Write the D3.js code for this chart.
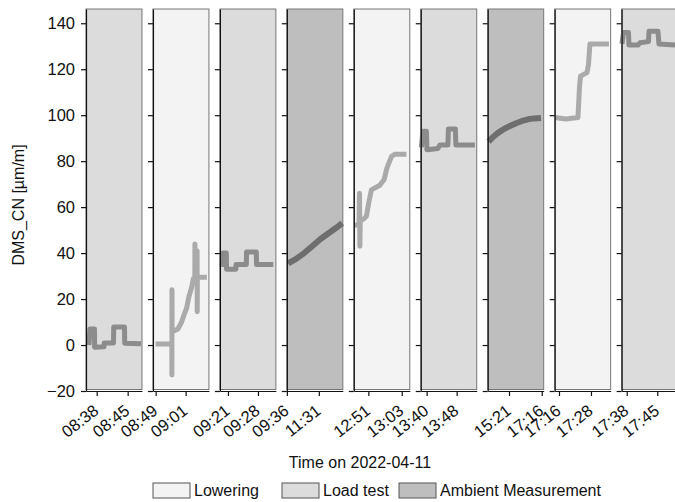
<!DOCTYPE html>
<html>
<head>
<meta charset="utf-8">
<script src="https://cdn.jsdelivr.net/npm/d3@7"></script>
<style>
  body { margin: 0; background: #fff; }
  text { font-family: "Liberation Sans", Arial, sans-serif; }
</style>
</head>
<body>
<div id="chart"></div>
<script>
// phase of each measurement window
const phases = ["Load test", "Lowering", "Load test", "Ambient Measurement", "Lowering",
  "Load test", "Ambient Measurement", "Lowering", "Load test"];

// visible time window of each panel
const windows = [
  ["08:35:35", "08:48:14"], ["08:47:55", "09:10:19"], ["09:19:07", "09:32:11"],
  ["09:36:00", "12:57:16"], ["12:45:47", "13:05:54"], ["13:38:26", "13:53:22"],
  ["14:06:06", "17:23:00"], ["17:14:23", "17:35:23"], ["17:36:50", "17:49:39"]
];

const tickTimes = [
  ["08:38", "08:45"], ["08:49", "09:01"], ["09:21", "09:28"], ["09:36", "11:31"],
  ["12:51", "13:03"], ["13:40", "13:48"], ["15:21", "17:16"], ["17:16", "17:28"],
  ["17:38", "17:45"]
];

const yTicks = [-20, 0, 20, 40, 60, 80, 100, 120, 140];

// DMS_CN [µm/m] per window
const dms1 = [["08:36:16", 0], ["08:36:29", 7], ["08:37:30", 7], ["08:37:32", -1], ["08:39:39", -0.8],
  ["08:39:42", 0.9], ["08:41:48", 0.9], ["08:41:51", 7.8], ["08:44:17", 7.8], ["08:44:20", 0.8],
  ["08:48:00", 0.6]];
const dms2 = [["08:48:59", 0.5], ["08:55:18", 0.5], ["08:55:28", 0.5], ["08:55:30", -13], ["08:55:32", 24],
  ["08:55:34", 5.5], ["08:56:01", 6], ["08:57:54", 7], ["08:59:23", 10], ["09:00:18", 13],
  ["09:01:23", 16], ["09:02:18", 21], ["09:03:23", 25], ["09:04:06", 29], ["09:04:40", 29],
  ["09:04:43", 44], ["09:04:48", 29], ["09:05:33", 29], ["09:05:35", 41], ["09:05:38", 14.5],
  ["09:05:42", 29.5], ["09:09:30", 29.5]];
const dms3 = [["09:19:30", 34], ["09:19:48", 40], ["09:20:37", 40], ["09:20:40", 33], ["09:22:50", 33],
  ["09:22:53", 35], ["09:25:17", 35], ["09:25:20", 40.5], ["09:27:37", 40.5], ["09:27:40", 35],
  ["09:31:35", 35]];
const dms4 = [["09:40:41", 35.5], ["10:09:29", 37.5], ["10:38:17", 40], ["11:07:05", 43], ["11:35:53", 46],
  ["12:04:41", 48.5], ["12:33:29", 51], ["12:55:05", 53]];
const dms5 = [["12:45:52", 52], ["12:47:40", 52.5], ["12:47:50", 66], ["12:47:58", 43], ["12:48:05", 54],
  ["12:49:30", 55], ["12:50:18", 56], ["12:51:10", 62], ["12:52:06", 67.5], ["12:55:07", 69.5],
  ["12:56:40", 72], ["12:57:40", 77], ["12:59:18", 82], ["13:00:30", 83], ["13:04:42", 83]];
const dms6 = [["13:38:36", 86], ["13:39:00", 93], ["13:39:56", 93], ["13:40:04", 85], ["13:43:00", 85.5],
  ["13:43:32", 87], ["13:45:40", 87], ["13:45:48", 94], ["13:47:40", 94], ["13:47:48", 87],
  ["13:52:52", 87]];
const dms7 = [["14:08:55", 88.5], ["14:24:45", 90.5], ["14:42:18", 92.3], ["15:03:24", 94], ["15:24:30", 95.3],
  ["15:45:36", 96.5], ["16:06:42", 97.5], ["16:27:48", 98.2], ["16:48:54", 98.6], ["17:13:36", 98.8]];
const dms8 = [["17:14:30", 99], ["17:18:37", 98.3], ["17:23:07", 99], ["17:23:41", 112], ["17:24:04", 117],
  ["17:26:30", 118.5], ["17:27:04", 122], ["17:27:37", 131], ["17:34:45", 131]];
const dms9 = [["17:36:55", 131], ["17:37:16", 136], ["17:38:24", 136], ["17:38:31", 130.5], ["17:40:35", 130.5],
  ["17:41:02", 131.5], ["17:42:59", 132], ["17:43:06", 136.5], ["17:45:09", 136.5], ["17:45:23", 131],
  ["17:49:30", 130.5]];

const series = [dms1, dms2, dms3, dms4, dms5, dms6, dms7, dms8, dms9];
const legendItems = ["Lowering", "Load test", "Ambient Measurement"];

const fills = { "Lowering": "#f3f3f3", "Load test": "#dcdcdc", "Ambient Measurement": "#bebebe" };
const strokes = { "Lowering": "#aaaaaa", "Load test": "#8c8c8c", "Ambient Measurement": "#6e6e6e" };
const widths = { "Lowering": 5, "Load test": 5, "Ambient Measurement": 6 };

const parse = d3.timeParse("%Y-%m-%d %H:%M:%S");
const t = (s) => parse("2022-04-11 " + (s.length === 5 ? s + ":00" : s));

const width = 675, height = 502;
const plotTop = 9, plotBottom = 391;

const svg = d3.select("#chart").append("svg")
  .attr("width", width)
  .attr("height", height);

const panel = d3.scaleBand().domain(d3.range(9)).range([86, 677.6]).paddingInner(0.164);
const y = d3.scaleLinear().domain([-20, 146.2]).range([plotBottom, plotTop]);
const w = panel.bandwidth();

phases.forEach((phase, i) => {
  const g = svg.append("g").attr("transform", "translate(" + panel(i) + ",0)");
  const x = d3.scaleTime().domain(windows[i].map(t)).range([0, w]);

  g.append("rect")
    .attr("x", 0)
    .attr("y", plotTop)
    .attr("width", w)
    .attr("height", plotBottom - plotTop - 1.5)
    .attr("fill", fills[phase])
    .attr("stroke", "#767676")
    .attr("stroke-width", 1);

  g.append("path")
    .datum(series[i])
    .attr("fill", "none")
    .attr("stroke", strokes[phase])
    .attr("stroke-width", widths[phase])
    .attr("stroke-linejoin", "round")
    .attr("d", d3.line().x((d) => x(t(d[0]))).y((d) => y(d[1])));

  const yAxis = d3.axisLeft(y).tickValues(yTicks).tickSize(5).tickSizeOuter(0).tickPadding(6);
  if (i > 0) yAxis.tickFormat("");
  g.append("g").attr("class", "y-axis").call(yAxis);

  g.append("g")
    .attr("class", "x-axis")
    .attr("transform", "translate(0," + plotBottom + ")")
    .call(d3.axisBottom(x).tickValues(tickTimes[i].map(t)).tickFormat(d3.timeFormat("%H:%M"))
      .tickSize(5).tickSizeOuter(0))
    .selectAll("text")
    .attr("x", 0)
    .attr("y", 0)
    .attr("dy", "0.75em")
    .attr("text-anchor", "end")
    .attr("transform", "translate(-5,12) rotate(-38)");
});

svg.selectAll(".domain").attr("stroke", "#111").attr("stroke-width", 1.2);
svg.selectAll(".tick line").attr("stroke", "#111").attr("stroke-width", 1.2);
svg.selectAll(".tick text").attr("fill", "#111").style("font-size", "16.5px")
  .style("font-family", "'Liberation Sans', Arial, sans-serif");

svg.append("text")
  .attr("transform", "rotate(-90)")
  .attr("x", -205)
  .attr("y", 24)
  .attr("text-anchor", "middle")
  .style("font-size", "16px")
  .attr("fill", "#111")
  .text("DMS_CN [µm/m]");

svg.append("text")
  .attr("x", 360)
  .attr("y", 468)
  .attr("text-anchor", "middle")
  .style("font-size", "16px")
  .attr("fill", "#111")
  .text("Time on 2022-04-11");

// legend
const legendX = [153, 282, 399];
const legend = svg.selectAll(".legend")
  .data(legendItems)
  .enter()
  .append("g")
  .attr("class", "legend")
  .attr("transform", (d, i) => "translate(" + legendX[i] + ",483)");

legend.append("rect")
  .attr("width", 37)
  .attr("height", 15)
  .attr("fill", (d) => fills[d])
  .attr("stroke", "#555")
  .attr("stroke-width", 1);

legend.append("text")
  .attr("x", 41)
  .attr("y", 13)
  .style("font-size", "16px")
  .attr("fill", "#111")
  .text((d) => d);
</script>
</body>
</html>
